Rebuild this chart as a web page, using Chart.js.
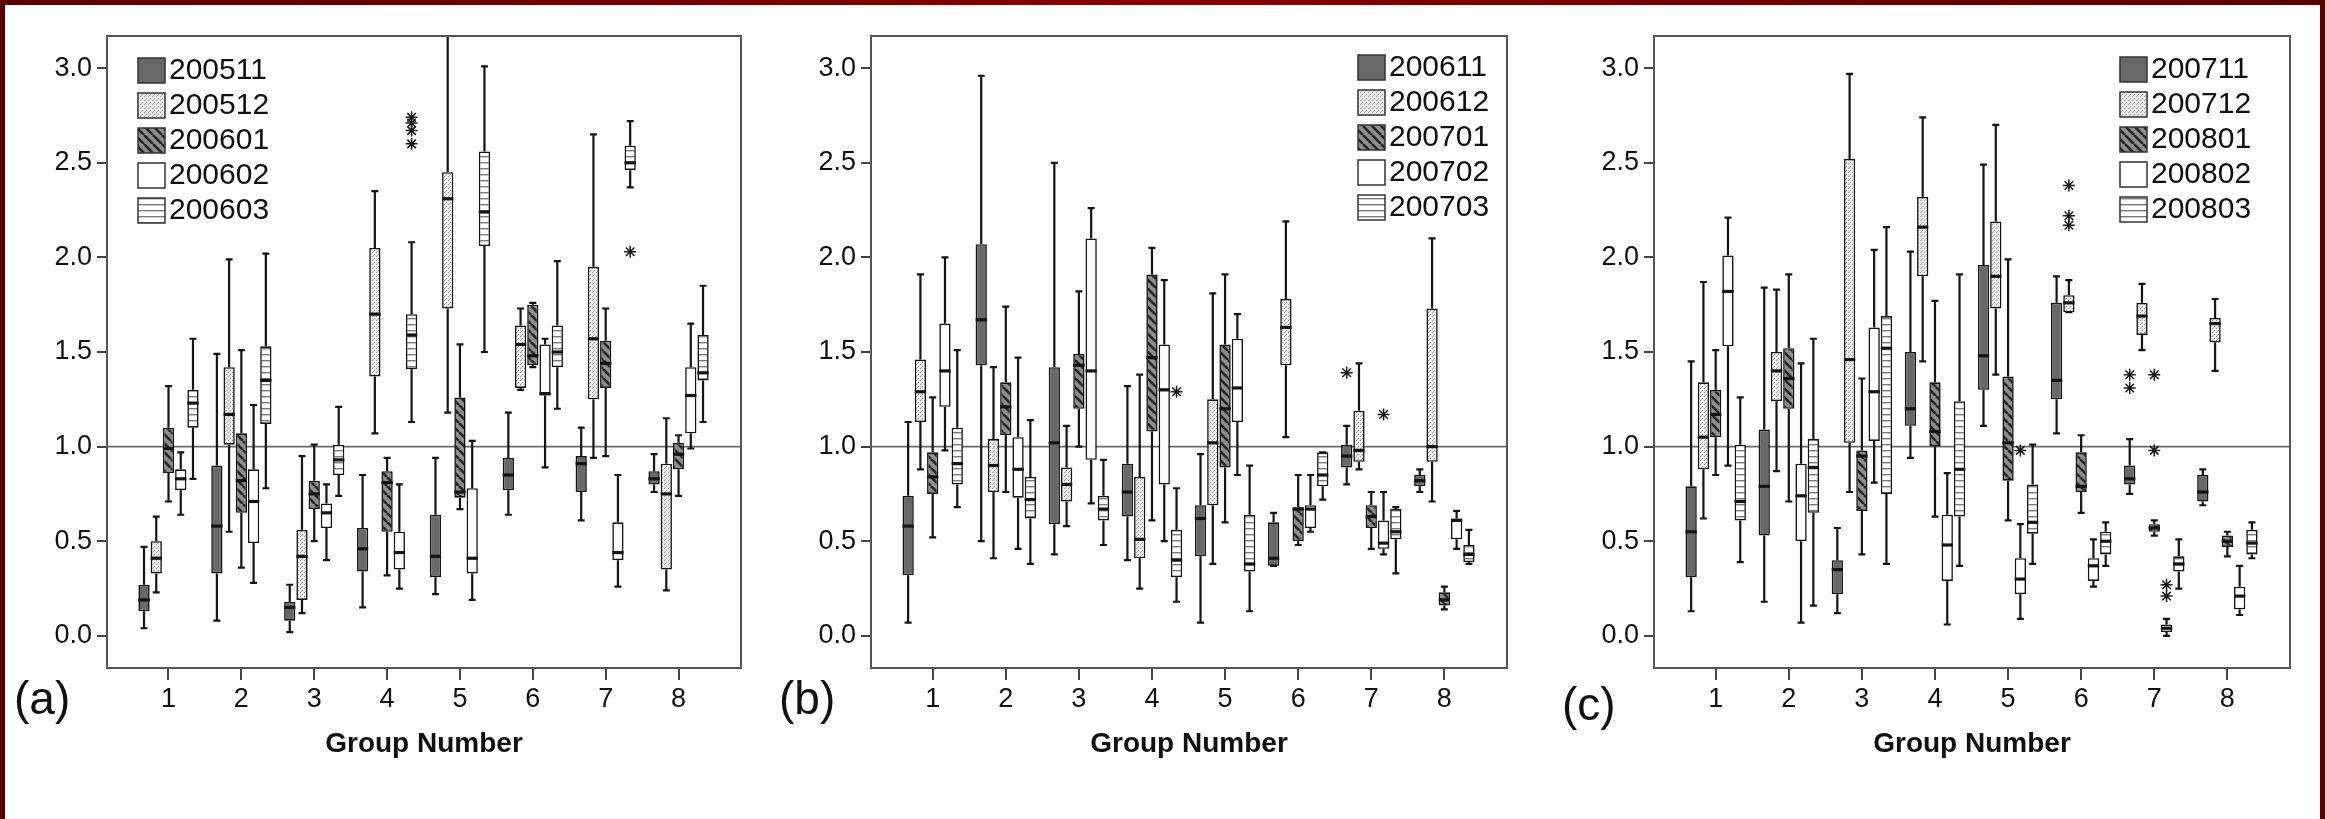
<!DOCTYPE html>
<html>
<head>
<meta charset="utf-8">
<script src="https://cdn.jsdelivr.net/npm/chart.js@4.4.0/dist/chart.umd.min.js"></script>
<style>
html, body { margin: 0; padding: 0; }
body { width: 2325px; height: 819px; position: relative; overflow: hidden;
       background: linear-gradient(90deg, #5a0000, #8a0000 50%, #5a0000);
       font-family: "Liberation Sans", Arial, sans-serif; }
#sheet { position: absolute; left: 5px; top: 5px; width: 2315px; height: 814px; background: #fff; }
.panel { position: absolute; top: 0; }
.tag { position: absolute; font-size: 46px; line-height: 46px; color: #111; }
</style>
</head>
<body>
<div id="sheet"></div>
<div class="panel" style="left:0px"><canvas id="chartA" width="760" height="819"></canvas></div>
<div class="panel" style="left:760px"><canvas id="chartB" width="780" height="819"></canvas></div>
<div class="panel" style="left:1540px"><canvas id="chartC" width="785" height="819"></canvas></div>
<div class="tag" style="left:14px;top:675px">(a)</div>
<div class="tag" style="left:779px;top:675px">(b)</div>
<div class="tag" style="left:1562px;top:681px">(c)</div>

<script>
// grupos e eixos
const groups = [1, 2, 3, 4, 5, 6, 7, 8];
const yTicks = [0, 0.5, 1.0, 1.5, 2.0, 2.5, 3.0];
const referenceValue = 1.0;

// cada caixa: [bigode inferior, Q1, mediana, Q3, bigode superior]
const seriesA = ['200511', '200512', '200601', '200602', '200603'];
const a200511 = [[0.04,0.13,0.19,0.27,0.47],[0.08,0.33,0.58,0.90,1.49],[0.02,0.08,0.15,0.18,0.27],[0.15,0.34,0.46,0.57,0.85],
                 [0.22,0.31,0.42,0.64,0.94],[0.64,0.77,0.85,0.94,1.18],[0.61,0.76,0.91,0.95,1.10],[0.76,0.80,0.83,0.87,0.96]];
const a200512 = [[0.23,0.33,0.41,0.50,0.63],[0.55,1.01,1.17,1.42,1.99],[0.12,0.19,0.42,0.56,0.95],[1.07,1.37,1.70,2.05,2.35],
                 [1.18,1.73,2.31,2.45,3.17],[1.30,1.31,1.54,1.64,1.73],[0.94,1.25,1.57,1.95,2.65],[0.24,0.35,0.75,0.91,1.15]];
const a200601 = [[0.71,0.86,0.99,1.10,1.32],[0.36,0.65,0.82,1.07,1.51],[0.50,0.67,0.75,0.82,1.01],[0.32,0.55,0.81,0.87,0.94],
                 [0.67,0.73,0.76,1.26,1.54],[1.42,1.43,1.48,1.75,1.76],[0.95,1.31,1.44,1.56,1.73],[0.74,0.88,0.96,1.02,1.06]];
const a200602 = [[0.64,0.77,0.83,0.88,0.97],[0.28,0.49,0.71,0.88,1.22],[0.40,0.57,0.65,0.70,0.80],[0.25,0.35,0.44,0.55,0.80],
                 [0.19,0.33,0.41,0.78,1.03],[0.89,1.27,1.28,1.54,1.57],[0.26,0.40,0.44,0.60,0.85],[0.99,1.07,1.27,1.42,1.65]];
const a200603 = [[0.83,1.10,1.23,1.30,1.57],[0.78,1.12,1.35,1.53,2.02],[0.74,0.85,0.93,1.01,1.21],[1.13,1.41,1.59,1.70,2.08],
                 [1.50,2.06,2.24,2.56,3.01],[1.20,1.42,1.50,1.64,1.98],[2.37,2.46,2.50,2.59,2.72],[1.13,1.35,1.39,1.59,1.85]];
// extremos: [grupo, índice da série, valor]
const outliersA = [[4,4,2.74],[4,4,2.71],[4,4,2.67],[4,4,2.60],[7,4,2.03]];

const seriesB = ['200611', '200612', '200701', '200702', '200703'];
const b200611 = [[0.07,0.32,0.58,0.74,1.13],[0.50,1.43,1.67,2.07,2.96],[0.43,0.59,1.02,1.42,2.50],[0.40,0.63,0.76,0.91,1.32],
                 [0.07,0.42,0.62,0.69,0.96],[0.37,0.37,0.41,0.60,0.65],[0.80,0.89,0.95,1.01,1.11],[0.76,0.79,0.82,0.85,0.88]];
const b200612 = [[0.88,1.13,1.29,1.46,1.91],[0.41,0.76,0.90,1.04,1.42],[0.58,0.71,0.80,0.89,1.11],[0.25,0.41,0.51,0.84,1.38],
                 [0.38,0.69,1.02,1.25,1.81],[1.05,1.43,1.63,1.78,2.19],[0.88,0.92,0.98,1.19,1.44],[0.71,0.92,1.00,1.73,2.10]];
const b200701 = [[0.52,0.75,0.84,0.97,1.26],[0.76,1.06,1.21,1.34,1.74],[1.00,1.20,1.43,1.49,1.82],[0.61,1.08,1.47,1.91,2.05],
                 [0.60,0.89,1.20,1.54,1.91],[0.48,0.50,0.67,0.68,0.85],[0.46,0.57,0.63,0.69,0.76],[0.14,0.16,0.19,0.23,0.26]];
const b200702 = [[0.98,1.21,1.40,1.65,2.00],[0.46,0.73,0.88,1.05,1.47],[0.70,0.93,1.40,2.10,2.26],[0.50,0.80,1.30,1.54,1.88],
                 [0.85,1.13,1.31,1.57,1.70],[0.55,0.57,0.67,0.69,0.85],[0.43,0.46,0.49,0.61,0.76],[0.46,0.51,0.61,0.62,0.66]];
const b200703 = [[0.68,0.80,0.91,1.10,1.51],[0.38,0.62,0.72,0.84,1.14],[0.48,0.61,0.67,0.74,0.93],[0.18,0.31,0.40,0.56,0.78],
                 [0.13,0.34,0.38,0.64,0.90],[0.72,0.79,0.85,0.97,0.97],[0.33,0.51,0.55,0.67,0.68],[0.38,0.39,0.43,0.48,0.56]];
const outliersB = [[4,4,1.29],[7,0,1.39],[7,3,1.17]];

const seriesC = ['200711', '200712', '200801', '200802', '200803'];
const c200711 = [[0.13,0.31,0.55,0.79,1.45],[0.18,0.53,0.79,1.09,1.84],[0.12,0.22,0.35,0.40,0.57],[0.94,1.11,1.20,1.50,2.03],
                 [1.11,1.30,1.48,1.96,2.49],[1.07,1.25,1.35,1.76,1.90],[0.75,0.80,0.83,0.90,1.04],[0.69,0.71,0.76,0.85,0.88]];
const c200712 = [[0.62,0.88,1.05,1.34,1.87],[0.87,1.24,1.40,1.50,1.83],[0.76,1.02,1.46,2.52,2.97],[1.45,1.90,2.16,2.32,2.74],
                 [1.38,1.73,1.90,2.19,2.70],[1.71,1.71,1.76,1.80,1.88],[1.51,1.59,1.69,1.76,1.86],[1.40,1.55,1.65,1.68,1.78]];
const c200801 = [[0.85,1.05,1.17,1.30,1.51],[0.71,1.20,1.36,1.52,1.91],[0.43,0.66,0.95,0.98,1.36],[0.63,1.00,1.08,1.34,1.77],
                 [0.61,0.82,1.02,1.37,1.99],[0.65,0.76,0.79,0.97,1.06],[0.53,0.55,0.57,0.59,0.61],[0.42,0.47,0.50,0.53,0.55]];
const c200802 = [[0.90,1.53,1.82,2.01,2.21],[0.07,0.50,0.74,0.91,1.44],[0.81,1.03,1.29,1.63,2.04],[0.06,0.29,0.48,0.64,0.86],
                 [0.09,0.22,0.30,0.41,0.59],[0.26,0.29,0.37,0.41,0.51],[0.00,0.02,0.04,0.06,0.09],[0.11,0.14,0.21,0.26,0.37]];
const c200803 = [[0.39,0.61,0.71,1.01,1.26],[0.16,0.65,0.89,1.04,1.57],[0.38,0.75,1.52,1.69,2.16],[0.37,0.63,0.88,1.24,1.91],
                 [0.38,0.54,0.60,0.80,1.01],[0.37,0.43,0.50,0.55,0.60],[0.25,0.34,0.38,0.42,0.51],[0.41,0.43,0.49,0.56,0.60]];
const outliersC = [[5,3,0.98],[6,1,2.38],[6,1,2.22],[6,1,2.17],[7,0,1.38],[7,0,1.31],[7,2,1.38],[7,2,0.98],[7,3,0.27],[7,3,0.21]];

const FONT = '"Liberation Sans", Arial, sans-serif';
const CAT_PCT = 0.84;
const BAR_PCT = 0.92;

// padrões de preenchimento (estilo SPSS)
function makeTile(w, h, draw) {
    const c = document.createElement('canvas');
    c.width = w; c.height = h;
    draw(c.getContext('2d'), w, h);
    return document.createElement('canvas').getContext('2d').createPattern(c, 'repeat');
}
const fills = [
    '#686868',
    makeTile(4, 4, (g) => {
        g.fillStyle = '#ececec'; g.fillRect(0, 0, 4, 4);
        g.fillStyle = '#8a8a8a'; g.fillRect(0, 0, 1, 1); g.fillRect(2, 2, 1, 1);
        g.fillStyle = '#b5b5b5'; g.fillRect(1, 3, 1, 1);
    }),
    makeTile(9, 9, (g, w) => {
        g.fillStyle = '#8e8e8e'; g.fillRect(0, 0, w, w);
        g.strokeStyle = '#262626'; g.lineWidth = 2.6;
        [-w, 0, w].forEach(o => { g.beginPath(); g.moveTo(o, 0); g.lineTo(o + w, w); g.stroke(); });
    }),
    '#ffffff',
    makeTile(6, 6, (g) => {
        g.fillStyle = '#ffffff'; g.fillRect(0, 0, 6, 6);
        g.fillStyle = '#7a7a7a'; g.fillRect(0, 0, 6, 1.4);
    })
];

// caixas, bigodes e medianas desenhados a partir das barras flutuantes
const boxPlotPlugin = {
    id: 'boxPlot',
    beforeDatasetsDraw(chart) {
        const { ctx, chartArea, scales: { y } } = chart;
        const yy = y.getPixelForValue(referenceValue);
        ctx.save();
        ctx.strokeStyle = '#6a6a6a';
        ctx.lineWidth = 1.6;
        ctx.beginPath();
        ctx.moveTo(chartArea.left, yy);
        ctx.lineTo(chartArea.right, yy);
        ctx.stroke();
        ctx.restore();
    },
    afterDatasetsDraw(chart) {
        const { ctx, chartArea, scales: { y } } = chart;
        ctx.save();
        ctx.beginPath();
        ctx.rect(chartArea.left, chartArea.top, chartArea.right - chartArea.left, chartArea.bottom - chartArea.top);
        ctx.clip();
        chart.data.datasets.forEach((ds, i) => {
            if (!ds.stats) return;
            const meta = chart.getDatasetMeta(i);
            meta.data.forEach((bar, j) => {
                const [lo, q1, med, q3, hi] = ds.stats[j];
                const { x, width } = bar.getProps(['x', 'width'], true);
                const cap = width * 0.62;
                ctx.strokeStyle = '#141414';
                ctx.lineWidth = 2.2;
                ctx.beginPath();
                ctx.moveTo(x, y.getPixelForValue(q3));
                ctx.lineTo(x, y.getPixelForValue(hi));
                ctx.moveTo(x - cap / 2, y.getPixelForValue(hi));
                ctx.lineTo(x + cap / 2, y.getPixelForValue(hi));
                ctx.moveTo(x, y.getPixelForValue(q1));
                ctx.lineTo(x, y.getPixelForValue(lo));
                ctx.moveTo(x - cap / 2, y.getPixelForValue(lo));
                ctx.lineTo(x + cap / 2, y.getPixelForValue(lo));
                ctx.stroke();
                ctx.lineWidth = 3.2;
                ctx.beginPath();
                ctx.moveTo(x - width / 2, y.getPixelForValue(med));
                ctx.lineTo(x + width / 2, y.getPixelForValue(med));
                ctx.stroke();
            });
        });
        ctx.restore();
    },
    afterDraw(chart) {
        const { ctx, chartArea } = chart;
        const lg = chart.options.plugins.boxPlot;
        // moldura
        ctx.save();
        ctx.strokeStyle = '#555';
        ctx.lineWidth = 2;
        ctx.strokeRect(chartArea.left, chartArea.top, chartArea.right - chartArea.left, chartArea.bottom - chartArea.top);
        // legenda
        ctx.font = '30px ' + FONT;
        ctx.textBaseline = 'middle';
        ctx.fillStyle = '#111';
        lg.labels.forEach((label, k) => {
            const cy = lg.top + k * lg.step;
            ctx.fillStyle = fills[k];
            ctx.fillRect(lg.left, cy - 12, 27, 25);
            ctx.strokeStyle = '#333';
            ctx.lineWidth = 1.5;
            ctx.strokeRect(lg.left, cy - 12, 27, 25);
            ctx.fillStyle = '#111';
            ctx.fillText(label, lg.left + 31, cy + 1);
        });
        ctx.restore();
    }
};

function buildChart(id, labels, stats, outliers, layout) {
    const datasets = labels.map((label, k) => ({
        type: 'bar',
        label: label,
        data: groups.map((g, j) => ({ x: g, y: [stats[k][j][1], stats[k][j][3]] })),
        stats: stats[k],
        backgroundColor: fills[k],
        borderColor: '#141414',
        borderWidth: 1.6,
        borderSkipped: false,
        barPercentage: BAR_PCT,
        categoryPercentage: CAT_PCT
    }));
    datasets.push({
        type: 'scatter',
        label: 'extremos',
        data: outliers.map(o => ({ x: o[0] + (o[1] - 2) * CAT_PCT / labels.length, y: o[2] })),
        pointStyle: 'star',
        radius: 6,
        borderColor: '#1a1a1a',
        backgroundColor: '#1a1a1a',
        borderWidth: 1.5
    });

    new Chart(document.getElementById(id), {
        type: 'bar',
        data: { datasets: datasets },
        options: {
            responsive: false,
            animation: false,
            events: [],
            layout: { padding: { top: 36, right: layout.right, bottom: 58, left: 0 } },
            plugins: {
                legend: { display: false },
                tooltip: { enabled: false },
                boxPlot: { labels: labels, left: layout.legendLeft, top: layout.legendTop, step: 35 }
            },
            scales: {
                x: {
                    type: 'linear',
                    min: 0.156,
                    max: 8.857,
                    offset: false,
                    afterBuildTicks: s => { s.ticks = groups.map(v => ({ value: v })); },
                    afterFit: s => { s.height = 93; },
                    border: { display: false },
                    grid: { offset: false, drawOnChartArea: false, drawTicks: true, tickLength: 12, color: '#444', lineWidth: 2 },
                    ticks: { font: { family: FONT, size: 27 }, color: '#111', padding: 3, maxRotation: 0, autoSkip: false,
                             callback: v => String(v) },
                    title: { display: true, text: 'Group Number', color: '#111',
                             font: { family: FONT, size: 28, weight: 'bold' }, padding: { top: 0, bottom: 0 } }
                },
                y: {
                    type: 'linear',
                    min: -0.17,
                    max: 3.17,
                    afterBuildTicks: s => { s.ticks = yTicks.map(v => ({ value: v })); },
                    afterFit: s => { s.width = layout.axisWidth; },
                    border: { display: false },
                    grid: { drawOnChartArea: false, drawTicks: true, tickLength: 10, color: '#444', lineWidth: 2 },
                    ticks: { font: { family: FONT, size: 27 }, color: '#111', padding: 5, callback: v => v.toFixed(1) }
                }
            }
        },
        plugins: [boxPlotPlugin]
    });
}

document.addEventListener('DOMContentLoaded', function() {
    if (typeof Chart === 'undefined') {
        console.error('Chart.js não foi carregado!');
        return;
    }
    buildChart('chartA', seriesA, [a200511, a200512, a200601, a200602, a200603], outliersA,
               { axisWidth: 107, right: 19, legendLeft: 138, legendTop: 70 });
    buildChart('chartB', seriesB, [b200611, b200612, b200701, b200702, b200703], outliersB,
               { axisWidth: 111, right: 33, legendLeft: 598, legendTop: 67 });
    buildChart('chartC', seriesC, [c200711, c200712, c200801, c200802, c200803], outliersC,
               { axisWidth: 114, right: 35, legendLeft: 580, legendTop: 69 });
});
</script>
</body>
</html>
